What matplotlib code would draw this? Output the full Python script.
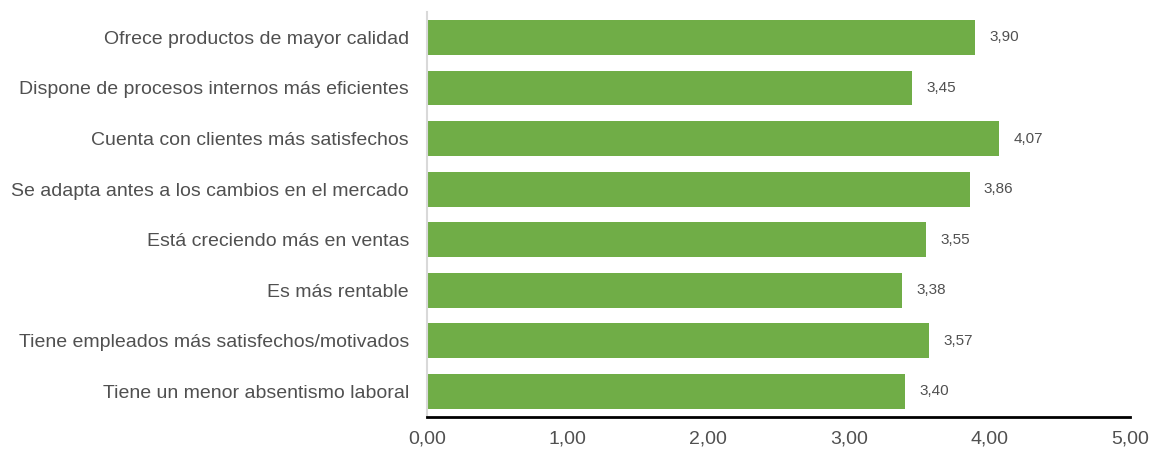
import matplotlib.pyplot as plt

plt.rcParams['font.family'] = ['Liberation Sans', 'DejaVu Sans']

# Data
categories = [
    "Ofrece productos de mayor calidad",
    "Dispone de procesos internos más eficientes",
    "Cuenta con clientes más satisfechos",
    "Se adapta antes a los cambios en el mercado",
    "Está creciendo más en ventas",
    "Es más rentable",
    "Tiene empleados más satisfechos/motivados",
    "Tiene un menor absentismo laboral",
]
values = [3.90, 3.45, 4.07, 3.86, 3.55, 3.38, 3.57, 3.40]
xticks = [0, 1, 2, 3, 4, 5]

green = '#70AD47'
text_col = '#505050'

fig = plt.figure(figsize=(11.51, 4.5), dpi=100)
ax = fig.add_axes([0.371, 0.0744, 0.6108, 0.8986])

pos = list(range(len(categories)))
ax.barh(pos, values, height=0.69, color=green)

for p, v in zip(pos, values):
    ax.text(v + 0.1, p, f"{v:.2f}".replace('.', ','), va='center', ha='left',
            fontsize=11, color=text_col)

ax.set_ylim(7.5, -0.5)
ax.set_xlim(0, 5)
ax.set_yticks(pos)
ax.set_yticklabels(categories, fontsize=14, color=text_col)
ax.set_xticks(xticks)
ax.set_xticklabels([f"{t:.2f}".replace('.', ',') for t in xticks], fontsize=14, color=text_col)
ax.tick_params(axis='both', length=0)
ax.tick_params(axis='y', pad=13)
ax.tick_params(axis='x', pad=10)

ax.spines['top'].set_visible(False)
ax.spines['right'].set_visible(False)
ax.spines['left'].set_color('#D9D9D9')
ax.spines['left'].set_linewidth(1.5)
ax.spines['bottom'].set_color('black')
ax.spines['bottom'].set_linewidth(2)

fig.savefig('out.png', dpi=100)
